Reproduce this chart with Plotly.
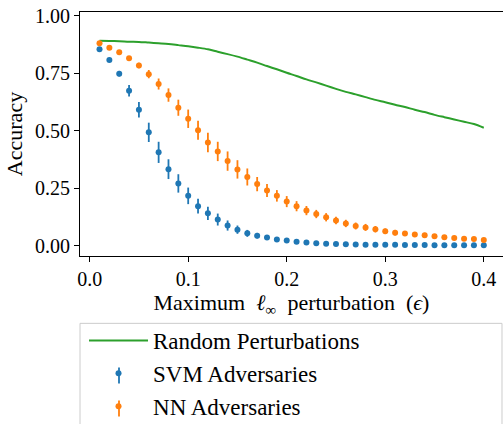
import plotly.graph_objects as go

eps = [round(0.01 * i, 2) for i in range(1, 41)]

random_acc = [0.891, 0.890, 0.889, 0.887, 0.886, 0.883, 0.880, 0.877, 0.872, 0.867,
              0.861, 0.854, 0.843, 0.833, 0.822, 0.809, 0.796, 0.781, 0.767, 0.752,
              0.738, 0.723, 0.710, 0.696, 0.682, 0.669, 0.658, 0.646, 0.634, 0.624,
              0.613, 0.603, 0.591, 0.581, 0.569, 0.559, 0.549, 0.539, 0.529, 0.513]

svm_acc = [0.854, 0.807, 0.748, 0.674, 0.591, 0.493, 0.406, 0.333, 0.271, 0.217,
           0.172, 0.141, 0.114, 0.088, 0.070, 0.054, 0.044, 0.036, 0.027, 0.023,
           0.018, 0.014, 0.011, 0.009, 0.008, 0.007, 0.006, 0.005, 0.005, 0.004,
           0.004, 0.003, 0.003, 0.003, 0.002, 0.002, 0.002, 0.002, 0.002, 0.002]
svm_err = [0.003, 0.005, 0.012, 0.025, 0.034, 0.042, 0.046, 0.043, 0.040, 0.036,
           0.032, 0.029, 0.026, 0.022, 0.018, 0.015, 0.012, 0.009, 0.007, 0.005,
           0.004, 0.003, 0.003, 0.002, 0.002, 0.002, 0.001, 0.001, 0.001, 0.001,
           0.001, 0.001, 0.001, 0.001, 0.001, 0.001, 0.001, 0.001, 0.001, 0.001]

nn_acc = [0.880, 0.861, 0.841, 0.815, 0.783, 0.746, 0.703, 0.655, 0.600, 0.552,
          0.502, 0.449, 0.410, 0.368, 0.332, 0.299, 0.268, 0.240, 0.217, 0.192,
          0.172, 0.153, 0.138, 0.124, 0.110, 0.097, 0.086, 0.080, 0.072, 0.063,
          0.057, 0.053, 0.049, 0.046, 0.041, 0.037, 0.034, 0.031, 0.030, 0.025]
nn_err = [0.004, 0.005, 0.007, 0.009, 0.012, 0.018, 0.024, 0.029, 0.035, 0.040,
          0.041, 0.042, 0.042, 0.042, 0.040, 0.037, 0.031, 0.028, 0.025, 0.024,
          0.022, 0.020, 0.018, 0.018, 0.016, 0.016, 0.015, 0.015, 0.014, 0.012,
          0.012, 0.011, 0.011, 0.010, 0.010, 0.009, 0.009, 0.009, 0.008, 0.008]

x_ticks = [0.0, 0.1, 0.2, 0.3, 0.4]
x_ticklabels = ["0.0", "0.1", "0.2", "0.3", "0.4"]
y_ticks = [0.0, 0.25, 0.5, 0.75, 1.0]
y_ticklabels = ["0.00", "0.25", "0.50", "0.75", "1.00"]

FONT = "Liberation Serif"
BLUE, ORANGE, GREEN = "#1f77b4", "#ff7f0e", "#2ca02c"

fig = go.Figure()
fig.add_trace(go.Scatter(x=eps, y=random_acc, mode="lines", name="Random Perturbations",
                         line=dict(color=GREEN, width=2, shape="spline", smoothing=0.8),
                         legendgroup="a"))
fig.add_trace(go.Scatter(x=eps, y=svm_acc, mode="markers", name="SVM Adversaries",
                         marker=dict(color=BLUE, size=6),
                         error_y=dict(type="data", array=svm_err, color=BLUE,
                                      thickness=1.8, width=0),
                         legendgroup="b"))
fig.add_trace(go.Scatter(x=eps, y=nn_acc, mode="markers", name="NN Adversaries",
                         marker=dict(color=ORANGE, size=6),
                         error_y=dict(type="data", array=nn_err, color=ORANGE,
                                      thickness=1.8, width=0),
                         legendgroup="c"))

# legend frame and error-bar glyphs for the legend entries (paper coordinates)
shapes = [dict(type="rect", xref="paper", yref="paper",
               x0=0.0, x1=0.9976, y0=-0.276, y1=-0.8,
               line=dict(color="#cccccc", width=1), fillcolor="rgba(0,0,0,0)")]
for yc, col in [(-0.4895, BLUE), (-0.625, ORANGE)]:
    shapes.append(dict(type="line", xref="paper", yref="paper",
                       x0=0.0922, x1=0.0922, y0=yc - 0.033, y1=yc + 0.033,
                       line=dict(color=col, width=1.8)))

fig.update_layout(
    width=503, height=424,
    margin=dict(l=80, r=0, t=12, b=168, autoexpand=False),
    paper_bgcolor="white", plot_bgcolor="white",
    font=dict(family=FONT, size=20, color="black"),
    showlegend=True,
    legend=dict(x=0.0095, y=-0.258, xanchor="left", yanchor="top",
                bgcolor="rgba(0,0,0,0)", borderwidth=0,
                font=dict(family=FONT, size=23, color="black"), tracegroupgap=0,
                traceorder="grouped", itemwidth=59),
    shapes=shapes,
)
fig.update_xaxes(range=[-0.0098, 0.4195], tickvals=x_ticks, ticktext=x_ticklabels,
                 automargin=False,
                 showgrid=False, zeroline=False, showline=True, linecolor="black",
                 linewidth=1, mirror=True, ticks="outside", ticklen=5, tickcolor="black",
                 tickfont=dict(family=FONT, size=20, color="black"),
                 title=dict(text="Maximum  <i>ℓ</i><sub>∞</sub>  perturbation  (<i>ϵ</i>)",
                            font=dict(family=FONT, size=22, color="black"), standoff=4))
fig.update_yaxes(range=[-0.0444, 1.016], tickvals=y_ticks, ticktext=y_ticklabels,
                 automargin=False,
                 showgrid=False, zeroline=False, showline=True, linecolor="black",
                 linewidth=1, ticks="outside", ticklen=5, tickcolor="black",
                 tickfont=dict(family=FONT, size=20, color="black"),
                 title=dict(text="Accuracy", font=dict(family=FONT, size=22, color="black"),
                            standoff=6))

fig.write_html("out.html", config={"displayModeBar": False},
               post_script="document.body.style.margin='0';document.body.style.overflow='hidden';")
